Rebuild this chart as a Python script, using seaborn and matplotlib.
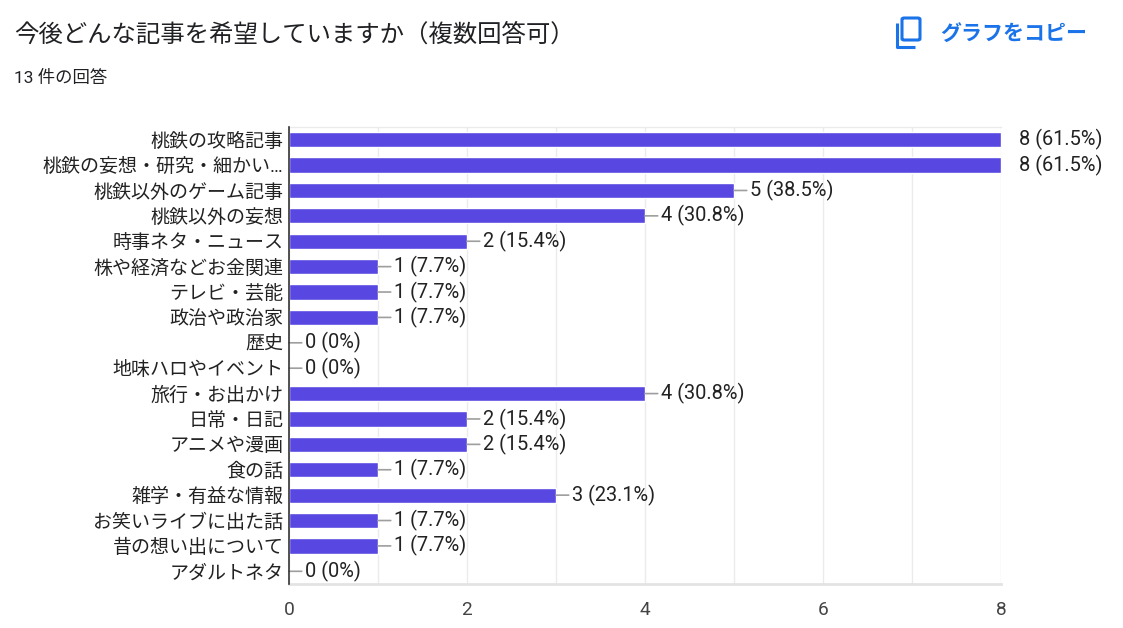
import matplotlib
matplotlib.use("Agg")
import matplotlib.pyplot as plt
import seaborn as sns
import pandas as pd
from matplotlib.patches import FancyBboxPatch
from matplotlib.lines import Line2D

categories = [
    "桃鉄の攻略記事",
    "桃鉄の妄想・研究・細かい…",
    "桃鉄以外のゲーム記事",
    "桃鉄以外の妄想",
    "時事ネタ・ニュース",
    "株や経済などお金関連",
    "テレビ・芸能",
    "政治や政治家",
    "歴史",
    "地味ハロやイベント",
    "旅行・お出かけ",
    "日常・日記",
    "アニメや漫画",
    "食の話",
    "雑学・有益な情報",
    "お笑いライブに出た話",
    "昔の想い出について",
    "アダルトネタ",
]
counts = [8, 8, 5, 4, 2, 1, 1, 1, 0, 0, 4, 2, 2, 1, 3, 1, 1, 0]
value_labels = [
    "8 (61.5%)", "8 (61.5%)", "5 (38.5%)", "4 (30.8%)", "2 (15.4%)",
    "1 (7.7%)", "1 (7.7%)", "1 (7.7%)", "0 (0%)", "0 (0%)",
    "4 (30.8%)", "2 (15.4%)", "2 (15.4%)", "1 (7.7%)", "3 (23.1%)",
    "1 (7.7%)", "1 (7.7%)", "0 (0%)",
]
x_ticks = [0, 2, 4, 6, 8]
title = "今後どんな記事を希望していますか（複数回答可）"
subtitle = "13 件の回答"
copy_text = "グラフをコピー"

sns.set_theme(style="white")
FAM = ["Roboto", "Noto Sans CJK JP", "DejaVu Sans"]
plt.rcParams["font.family"] = FAM

df = pd.DataFrame({"cat": categories, "n": counts})

fig = plt.figure(figsize=(11.23, 6.28), dpi=100)
W, H = 1123, 628
ax = fig.add_axes([289 / W, 1 - 584 / H, (1001 - 289) / W, (584 - 127) / H])

sns.barplot(data=df, y="cat", x="n", orient="h", color="#5847e1",
            saturation=1, width=0.6, ax=ax, zorder=3)

ax.set_xlim(0, 8)
ax.set_ylim(len(categories) - 0.5, -0.5)
ax.set_xticks(x_ticks)
ax.set_xticks(range(0, 9), minor=True)
ax.grid(axis="x", which="both", color="#ebebeb", lw=1, zorder=0)
ax.set_axisbelow(True)
ax.set_xlabel("")
ax.set_ylabel("")

ax.spines["right"].set_visible(False)
ax.spines["top"].set_color("#ebebeb")
ax.spines["top"].set_linewidth(1)
ax.spines["bottom"].set_color("#e3e3e3")
ax.spines["bottom"].set_linewidth(2)
ax.spines["left"].set_color("#333333")
ax.spines["left"].set_linewidth(1.2)
ax.spines["left"].set_zorder(5)

ax.tick_params(axis="x", which="both", length=0, pad=12, labelsize=13.8, labelcolor="#444444")
ax.tick_params(axis="y", length=0, pad=4, labelsize=13.7, labelcolor="#222222")
for lab in ax.get_yticklabels():
    lab.set_family(FAM)

VAL_FS = 14.4
for i, (v, lab) in enumerate(zip(counts, value_labels)):
    if v >= 8:
        ax.annotate(lab, xy=(v, i), xytext=(18, 0), textcoords="offset pixels",
                    ha="left", va="center", fontsize=VAL_FS, color="#222222",
                    family=FAM, annotation_clip=False)
    else:
        ax.annotate(lab, xy=(v, i), xytext=(16, 0), textcoords="offset pixels",
                    ha="left", va="center", fontsize=VAL_FS, color="#222222",
                    family=FAM, annotation_clip=False,
                    arrowprops=dict(arrowstyle="-", color="#9e9e9e", lw=1.2,
                                    shrinkA=0, shrinkB=0))

fig.text(14 / W, 1 - 35 / H, title, fontsize=17.6, color="#202124",
         ha="left", va="center", family=["Noto Sans CJK JP", "DejaVu Sans"])
fig.text(14 / W, 1 - 78 / H, subtitle, fontsize=12.5, color="#202124",
         ha="left", va="center", family=FAM)

blue = "#1a73e8"
fig.text(940 / W, 1 - 33 / H, copy_text, fontsize=15.1, color=blue, ha="left",
         va="center", fontweight="bold", family=["Noto Sans CJK JP", "DejaVu Sans"])
# copy icon
front = FancyBboxPatch((902 / W, 1 - 40 / H), 18 / W, 22 / H,
                       boxstyle="round,pad=0,rounding_size=0.002",
                       transform=fig.transFigure, fill=False, ec=blue, lw=2.2)
fig.add_artist(front)
fig.add_artist(Line2D([896.5 / W, 896.5 / W, 915 / W], [1 - 23 / H, 1 - 46.5 / H, 1 - 46.5 / H],
                      transform=fig.transFigure, color=blue, lw=2.2,
                      solid_joinstyle="round", solid_capstyle="butt"))

fig.savefig("out.png", dpi=100)
